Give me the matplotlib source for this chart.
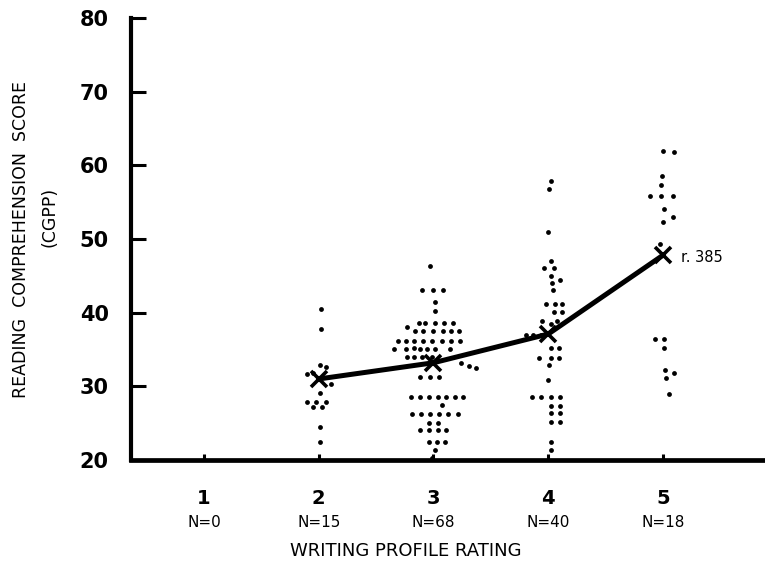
import matplotlib
matplotlib.use("Agg")
import matplotlib.pyplot as plt

# ---------------- data ----------------
ratings = [1, 2, 3, 4, 5]
n_labels = ["N=0", "N=15", "N=68", "N=40", "N=18"]

# individual scores with small horizontal swarm offsets (rating units)
scores_2 = [40.5, 37.8, 32.9, 32.6, 31.8, 31.7, 30.3, 29.1, 27.9, 27.9, 27.9, 27.2, 27.2, 24.5, 22.4]
offs_2 = [0.02, 0.02, 0.01, 0.06, -0.05, -0.10, 0.11, 0.01, -0.10, -0.02, 0.06, -0.05, 0.03, 0.01, 0.01]

scores_3 = [46.3,
            43.1, 43.1, 43.1,
            41.4, 40.2,
            38.6, 38.6, 38.6, 38.6, 38.6,
            38.0,
            37.5, 37.5, 37.5, 37.5, 37.5, 37.5,
            36.2, 36.2, 36.2, 36.2, 36.2, 36.2, 36.2, 36.2,
            35.2,
            35.0, 35.0, 35.0, 35.0, 35.0, 35.0,
            34.0, 34.0, 34.0, 34.0,
            33.2, 32.8, 32.5,
            31.3, 31.3, 31.3,
            28.5, 28.5, 28.5, 28.5, 28.5, 28.5, 28.5,
            27.5,
            26.2, 26.2, 26.2, 26.2, 26.2, 26.2,
            25.0, 25.0,
            24.1, 24.1, 24.1, 24.1,
            22.4, 22.4, 22.4,
            21.3, 20.3]
offs_3 = [-0.03,
          -0.10, 0.00, 0.08,
          0.01, 0.01,
          -0.13, -0.07, 0.01, 0.09, 0.17,
          -0.23,
          -0.16, -0.09, 0.00, 0.08, 0.15, 0.22,
          -0.31, -0.24, -0.17, -0.09, -0.01, 0.07, 0.15, 0.23,
          -0.17,
          -0.34, -0.24, -0.12, -0.06, 0.01, 0.14,
          -0.23, -0.17, -0.10, -0.01,
          0.24, 0.31, 0.37,
          -0.12, -0.03, 0.05,
          -0.20, -0.12, -0.04, 0.04, 0.11, 0.19, 0.26,
          0.07,
          -0.19, -0.11, -0.03, 0.05, 0.13, 0.21,
          -0.04, 0.04,
          -0.12, -0.04, 0.04, 0.11,
          -0.04, 0.03, 0.10,
          0.01, -0.01]

scores_4 = [57.9, 56.8, 50.9, 47.0, 46.1, 46.1, 45.0, 44.4, 44.0, 43.1,
            41.2, 41.2, 41.2, 40.1, 40.1, 38.9, 38.9, 38.4,
            37.0, 37.0, 37.0, 35.2, 35.2, 33.8, 33.8, 33.8, 32.9, 30.9,
            28.5, 28.5, 28.5, 28.5, 27.3, 27.3, 26.4, 26.4, 25.2, 25.2,
            22.4, 21.4]
offs_4 = [0.02, 0.01, 0.00, 0.02, -0.04, 0.05, 0.02, 0.10, 0.03, 0.04,
          -0.02, 0.06, 0.12, 0.05, 0.12, -0.05, 0.08, 0.02,
          -0.19, -0.13, -0.06, 0.02, 0.09, -0.08, 0.02, 0.09, 0.01, 0.00,
          -0.14, -0.06, 0.02, 0.10, 0.02, 0.10, 0.02, 0.10, 0.02, 0.10,
          0.02, 0.02]

scores_5 = [61.9, 61.8, 58.5, 57.3, 55.8, 55.8, 55.9, 54.1, 52.3, 53.0,
            49.3, 36.4, 36.4, 35.2, 32.2, 31.8, 31.1, 29.0]
offs_5 = [0.00, 0.10, -0.01, -0.02, -0.11, -0.02, 0.09, 0.01, 0.00, 0.09,
          -0.03, -0.07, 0.01, 0.01, 0.02, 0.10, 0.03, 0.05]

mean_ratings = [2, 3, 4, 5]
mean_scores = [31.0, 33.2, 37.1, 47.8]
r_label = "r. 385"

yticks = [20, 30, 40, 50, 60, 70, 80]

# ---------------- figure ----------------
fig = plt.figure(figsize=(7.65, 5.63), dpi=100)
ax = fig.add_axes([131 / 765, 103 / 563, 634 / 765, 442 / 563])

groups = [(2, scores_2, offs_2), (3, scores_3, offs_3), (4, scores_4, offs_4), (5, scores_5, offs_5)]
for r, sc, of in groups:
    xs = [r + o for o in of]
    ax.scatter(xs, sc, s=12, color="black", linewidths=0, zorder=2, clip_on=False)

ax.plot(mean_ratings, mean_scores, color="black", lw=3.6, zorder=3, solid_capstyle="butt")
ax.plot(mean_ratings, mean_scores, linestyle="none", marker="x", markersize=11,
        markeredgewidth=2.6, color="black", zorder=4)
ax.annotate(r_label, xy=(mean_ratings[-1], mean_scores[-1]), xytext=(13, -2),
            textcoords="offset points", ha="left", va="center", fontsize=10.5)

ax.set_xlim(0.364, 5.889)
ax.set_ylim(20, 80)

for s in ["top", "right"]:
    ax.spines[s].set_visible(False)
ax.spines["left"].set_linewidth(3.0)
ax.spines["bottom"].set_linewidth(3.4)

ax.set_yticks(yticks)
ax.set_yticklabels([str(v) for v in yticks], fontsize=15, fontweight="bold")
ax.set_xticks(ratings)
ax.set_xticklabels([str(v) for v in ratings], fontsize=14, fontweight="bold")
ax.tick_params(axis="y", direction="in", length=11, width=2.2, pad=16)
ax.tick_params(axis="x", direction="in", length=4, width=2.2, pad=21)

for r, lab in zip(ratings, n_labels):
    ax.text(r, -0.1425, lab, transform=ax.get_xaxis_transform(), ha="center", va="center",
            fontsize=11)

fig.text(406 / 765, 1 - 551 / 563, "WRITING PROFILE RATING", ha="center", va="center", fontsize=13)
fig.text(21 / 765, 1 - 240 / 563, "READING  COMPREHENSION  SCORE", rotation=90,
         ha="center", va="center", fontsize=12.5)
fig.text(50 / 765, 1 - 217 / 563, "(CGPP)", rotation=90, ha="center", va="center", fontsize=12.5)

fig.savefig("out.png", dpi=100)
